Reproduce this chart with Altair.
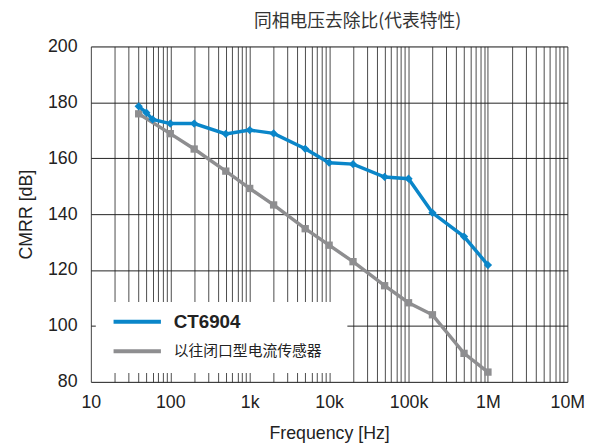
import altair as alt
import pandas as pd

# ---- data ----
ct_freq = [40, 50, 60, 100, 200, 500, 1000, 2000, 5000, 10000, 20000, 50000, 100000, 200000, 500000, 1000000]
ct_cmrr = [178.6, 176.3, 173.9, 172.4, 172.4, 168.7, 170.1, 168.9, 163.4, 158.4, 157.9, 153.3, 152.7, 140.5, 132.0, 121.8]

old_freq = [40, 100, 200, 500, 1000, 2000, 5000, 10000, 20000, 50000, 100000, 200000, 500000, 1000000]
old_cmrr = [175.9, 168.8, 163.3, 155.4, 149.2, 143.3, 134.8, 128.9, 123.0, 114.4, 108.3, 104.0, 90.2, 83.5]

series_names = ["CT6904", "以往闭口型电流传感器"]
series_colors = ["#0a86c9", "#8e8e90"]

major_ticks = [10, 100, 1000, 10000, 100000, 1000000, 10000000]
major_labels = ["10", "100", "1k", "10k", "100k", "1M", "10M"]
y_ticks = [80, 100, 120, 140, 160, 180, 200]

title_text = "同相电压去除比(代表特性)"
x_title = "Frequency [Hz]"
y_title = "CMRR [dB]"

# grid values: 1..9 x decade
grid_vals = []
for d in major_ticks[:-1]:
    for m in range(1, 10):
        grid_vals.append(d * m)
grid_vals.append(major_ticks[-1])

label_expr = ""
for v, l in zip(major_ticks, major_labels):
    label_expr += f"datum.value == {v} ? '{l}' : "
label_expr += "''"

df_ct = pd.DataFrame({"f": ct_freq, "v": ct_cmrr, "s": series_names[0]})
df_old = pd.DataFrame({"f": old_freq, "v": old_cmrr, "s": series_names[1]})

W, H = 483, 340
FONT = "Liberation Sans"

xs = alt.Scale(type="log", domain=[10, 1e7], nice=False)
ys = alt.Scale(domain=[80, 200], nice=False, zero=False)

x_axis = alt.Axis(values=grid_vals, labelExpr=label_expr, grid=True, gridColor="#4a4a4a",
                  gridWidth=1, ticks=False, domain=False, labelOverlap=False, labelFlush=False,
                  labelFont=FONT, labelFontSize=18, labelColor="#222", labelPadding=12,
                  title=x_title, titleFont=FONT, titleFontSize=18, titleFontWeight="normal",
                  titleColor="#222", titlePadding=13)
y_axis = alt.Axis(values=y_ticks, grid=True, gridColor="#222", gridWidth=1, ticks=False,
                  domain=False, labelFont=FONT, labelFontSize=18, labelColor="#222",
                  labelPadding=14, title=y_title, titleFont=FONT, titleFontSize=18,
                  titleFontWeight="normal", titleColor="#222", titlePadding=12)

def line_layer(df, color, width, shape, size):
    base = alt.Chart(df).encode(
        x=alt.X("f:Q", scale=xs, axis=x_axis),
        y=alt.Y("v:Q", scale=ys, axis=y_axis),
    )
    ln = base.mark_line(color=color, strokeWidth=width)
    pt = base.mark_point(color=color, filled=True, opacity=1, shape=shape, size=size)
    return ln + pt

old_layer = line_layer(df_old, series_colors[1], 3.5, "square", 55)
ct_layer = line_layer(df_ct, series_colors[0], 3.5, "diamond", 70)

# legend box (manual, to match the white panel over the grid)
one = pd.DataFrame({"a": [0]})
box = alt.Chart(one).mark_rect(color="white").encode(
    x=alt.value(5), x2=alt.value(260), y=alt.value(259), y2=alt.value(331))
leg_l1 = alt.Chart(one).mark_rule(strokeWidth=4, color=series_colors[0]).encode(
    x=alt.value(23), x2=alt.value(71), y=alt.value(279))
leg_l2 = alt.Chart(one).mark_rule(strokeWidth=4, color=series_colors[1]).encode(
    x=alt.value(23), x2=alt.value(71), y=alt.value(309))
leg_t1 = alt.Chart(one).mark_text(align="left", baseline="middle", font=FONT,
                                  fontSize=19, fontWeight="bold", color="#222",
                                  text=series_names[0]).encode(
    x=alt.value(84), y=alt.value(279))
leg_t2 = alt.Chart(one).mark_text(align="left", baseline="middle", font="Noto Sans CJK SC",
                                  fontSize=15, color="#222", text=series_names[1]).encode(
    x=alt.value(84), y=alt.value(309))

chart = alt.layer(old_layer, ct_layer, box, leg_l1, leg_l2, leg_t1, leg_t2).properties(
    width=W, height=H,
    title=alt.TitleParams(title_text, font="Noto Sans CJK SC", fontSize=18, fontWeight="normal",
                          color="#333", anchor="middle", offset=7, dx=29),
    autosize=alt.AutoSizeParams(type="none"),
    padding={"left": 84, "top": 36, "right": 27, "bottom": 60},
).configure_view(stroke="#8a8a8a", strokeWidth=1.5).configure(background="white")

chart.save("out.html", embed_options={"renderer": "svg", "actions": False})
